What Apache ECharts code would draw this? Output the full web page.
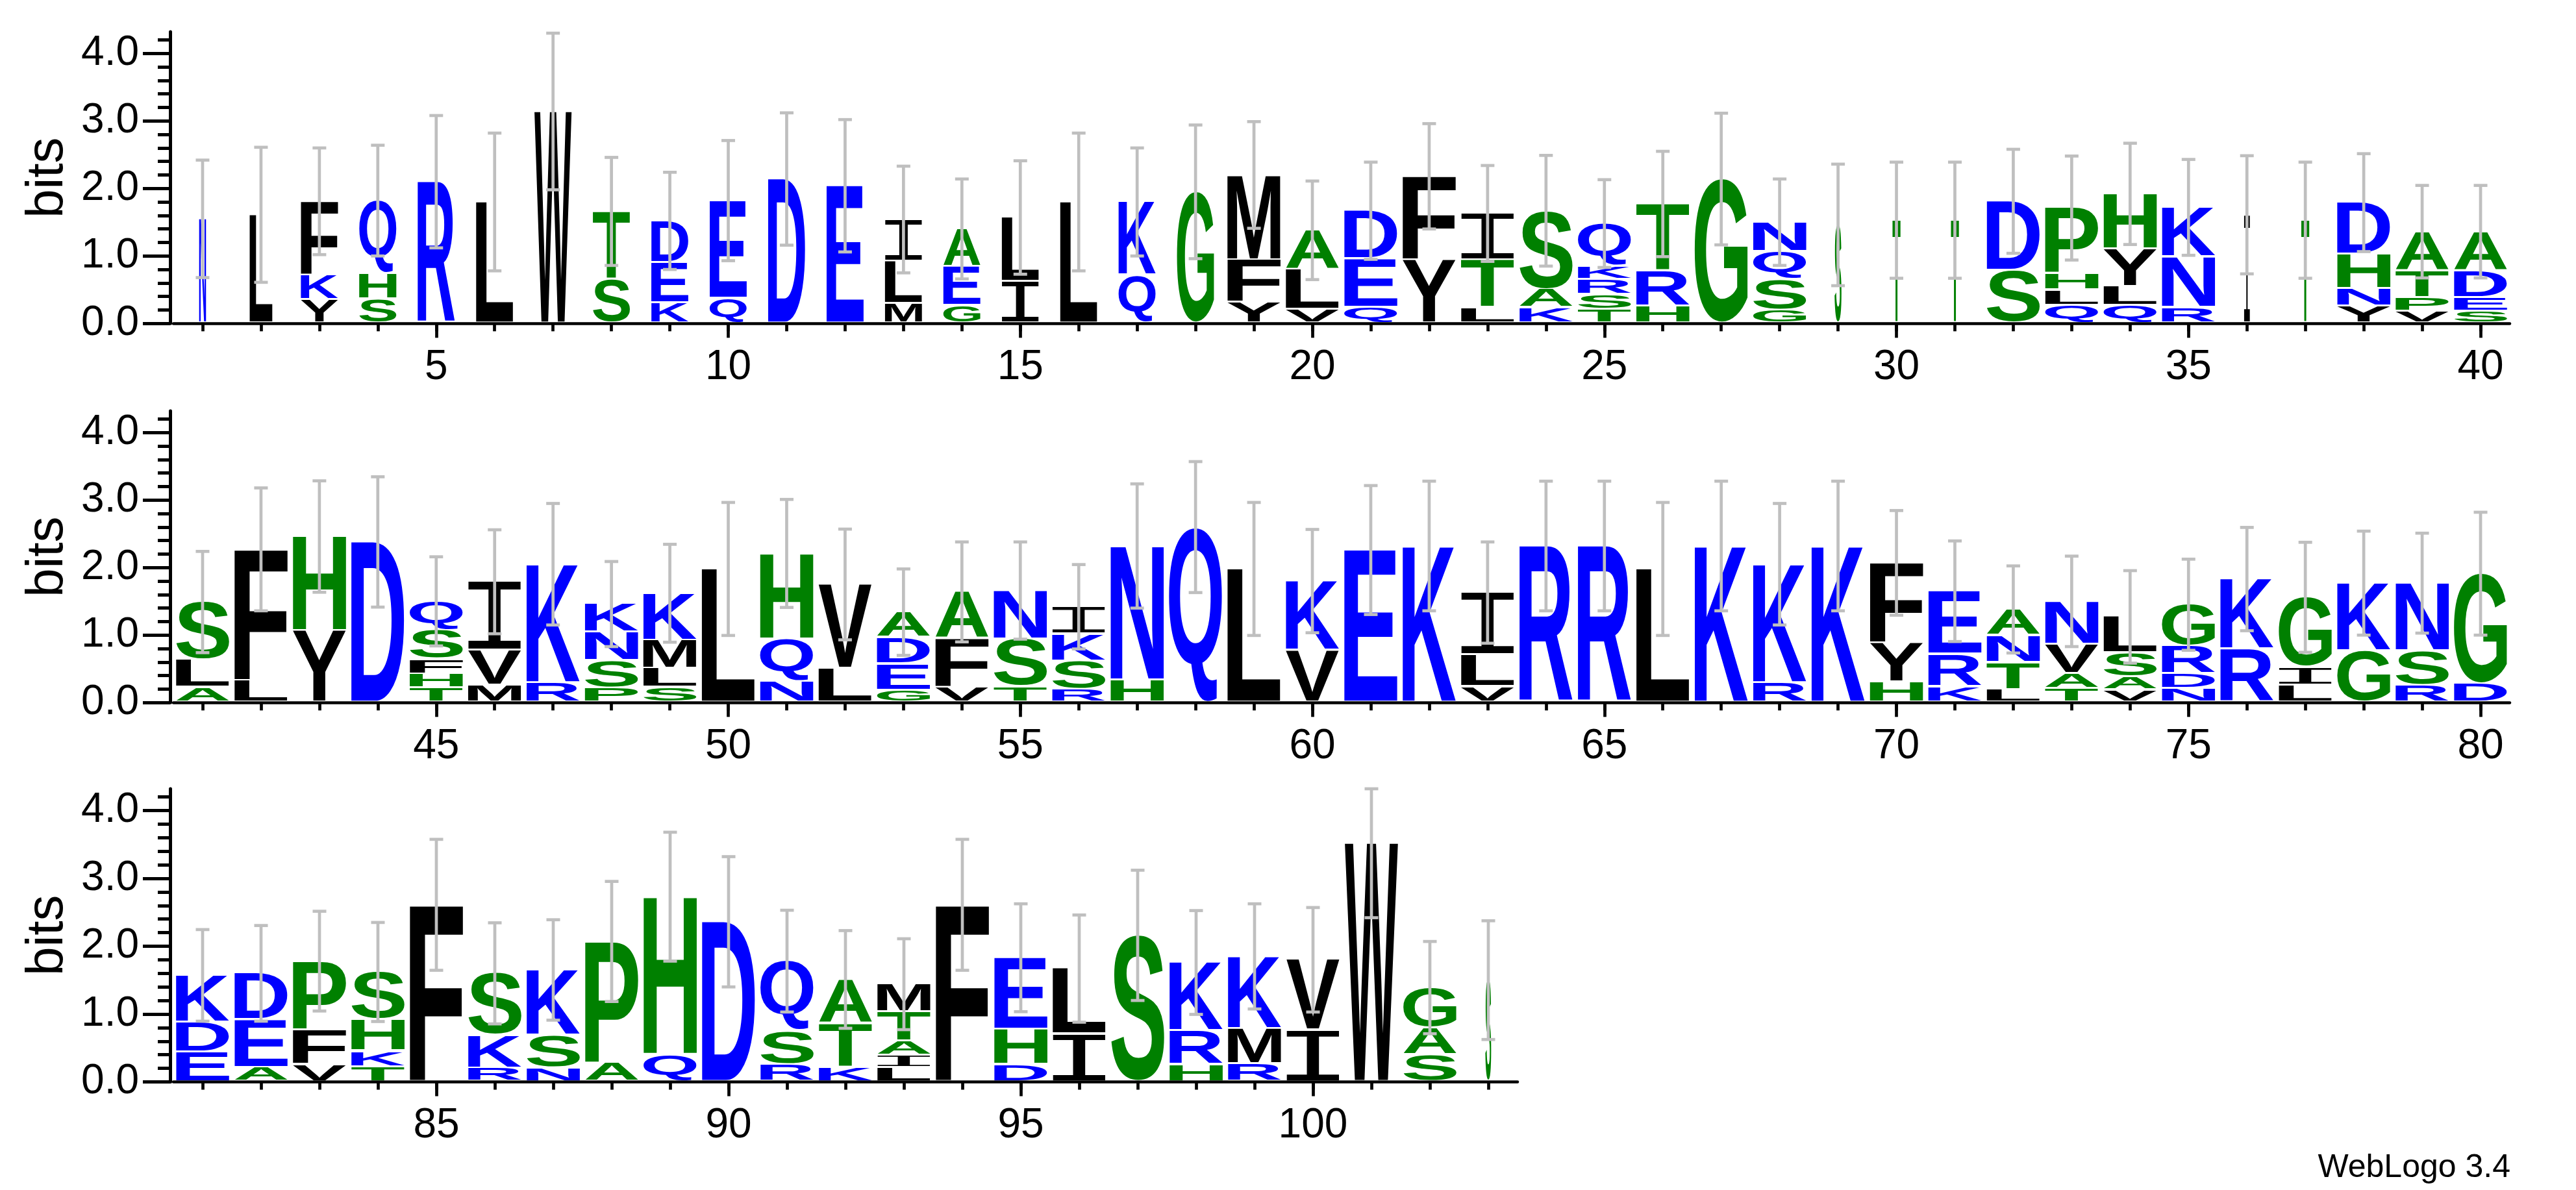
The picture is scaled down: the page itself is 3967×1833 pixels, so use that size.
<!DOCTYPE html>
<html><head><meta charset="utf-8">
<script src="https://cdn.jsdelivr.net/npm/echarts@6/dist/echarts.min.js"></script>
<style>html,body{margin:0;padding:0;background:#fff}#c{width:3967px;height:1833px}</style>
</head><body><div id="c"></div>
<script>
// ---- DATA ----
// letters of each stack, bottom to top, for positions 1..103
const letters = ["N","L","YKF","SHQ","R","L","W","ST","KED","QE","D","E","MLI","GEA","IL","L","QK","G","YFM","VLA",
"QED","YF","LTI","KAS","TSRKQ","HRT","G","GSQN","S","T","T","SD","QLHP","QLYH","RNK","I","T","YNHD","VPTA","SEDA",
"ALS","LF","YH","D","THFSQ","MVI","RK","PSNK","SLMK","L","NQH","LV","GEDA","VFA","TSN","RSKI","HN","Q","L","VK",
"E","K","VLI","R","R","L","K","RK","K","HYF","KRE","LTNA","TAVN","VASL","NDRG","RK","LIG","GK","RSN","DG",
"EDK","AED","VFP","TKHS","F","RKS","NSK","AP","QH","D","RSQ","KTA","LIATM","F","DHE","IL","S","HRK","RMK","IV",
"W","SAG","S"];
// letter heights in bits, same order
const heights = [
[1.55],[1.61],[0.35,0.36,1.10],[0.36,0.37,1.09],[2.10],[1.80],[3.14],[0.65,1.01],[0.30,0.60,0.62],[0.37,1.45],
[2.14],[2.04],[0.29,0.63,0.62],[0.26,0.58,0.56],[0.62,0.95],[1.80],[0.71,1.09],[1.95],[0.31,0.63,1.26],[0.20,0.59,0.59],
[0.23,0.72,0.72],[0.94,1.24],[0.23,0.71,0.69],[0.23,0.27,1.17],[0.20,0.22,0.23,0.19,0.64],[0.25,0.52,1.00],[2.14],[0.19,0.46,0.41,0.44],[1.46],[1.53],
[1.53],[0.78,1.03],[0.26,0.23,0.24,0.98],[0.26,0.28,0.56,0.82],[0.23,0.75,0.74],[1.61],[1.53],[0.25,0.26,0.51,0.77],[0.18,0.20,0.40,0.58],[0.18,0.20,0.40,0.58],
[0.22,0.41,0.86],[0.32,1.95],[1.06,1.40],[2.38],[0.21,0.21,0.22,0.43,0.43],[0.25,0.52,1.02],[0.29,1.76],[0.21,0.41,0.42,0.42],[0.22,0.28,0.42,0.70],[1.98],
[0.31,0.63,1.27],[0.50,1.25],[0.18,0.39,0.39,0.38],[0.22,0.72,0.70],[0.23,0.71,0.72],[0.19,0.42,0.40,0.41],[0.33,1.99],[2.60],[1.98],[0.77,1.03],
[2.26],[2.32],[0.23,0.47,0.93],[2.32],[2.32],[1.98],[2.32],[0.29,1.76],[2.32],[0.30,0.58,1.19],
[0.23,0.48,0.94],[0.19,0.40,0.40,0.39],[0.20,0.23,0.43,0.64],[0.18,0.19,0.36,0.54],[0.20,0.22,0.41,0.62],[0.79,1.04],[0.25,0.27,1.04],[0.76,1.01],[0.25,0.51,1.01],[0.27,1.64],
[0.44,0.44,0.69],[0.21,0.70,0.69],[0.25,0.51,1.02],[0.22,0.23,0.46,0.71],[2.61],[0.20,0.48,0.92],[0.20,0.48,0.97],[0.27,1.80],[0.40,2.33],[2.36],
[0.25,0.50,1.03],[0.21,0.65,0.65],[0.21,0.18,0.21,0.43,0.41],[2.61],[0.25,0.52,1.06],[0.70,0.97],[2.16],[0.25,0.50,1.01],[0.26,0.52,1.07],[0.76,1.04],
[3.52],[0.39,0.40,0.60],[1.50]];
// error bar half-length (bits)
const errorBars = [
0.87,1.00,0.79,0.82,0.98,1.02,1.16,0.80,0.72,0.89,0.98,0.98,0.79,0.74,0.84,1.02,0.80,0.99,0.79,0.73,
0.72,0.78,0.71,0.82,0.65,0.78,0.975,0.64,0.90,0.86,0.86,0.77,0.77,0.75,0.71,0.875,0.86,0.725,0.685,0.685,
0.75,0.91,0.825,0.965,0.66,0.77,0.90,0.63,0.725,0.985,0.80,0.82,0.64,0.74,0.72,0.625,0.92,0.97,0.985,0.765,
0.955,0.96,0.75,0.96,0.96,0.985,0.96,0.90,0.96,0.775,0.745,0.645,0.67,0.685,0.675,0.765,0.815,0.77,0.74,0.91,
0.675,0.705,0.735,0.73,0.965,0.745,0.74,0.885,0.95,0.96,0.75,0.72,0.67,0.965,0.795,0.79,0.96,0.765,0.775,0.77,
1.10,0.68,0.875];
// relative stack width (fraction of occupied sequences)
const stackWidths = [
0.13,0.43,0.70,0.70,0.70,0.70,0.70,0.70,0.70,0.70,0.70,0.70,0.70,0.70,0.70,0.70,0.70,0.70,1,1,
1,1,1,1,1,1,1,1,0.13,0.15,0.15,1,1,1,1,0.11,0.15,1,1,1,
1,1,1,1,1,1,1,1,1,1,1,1,1,1,1,1,1,1,1,1,
1,1,1,1,1,1,1,1,1,1,1,1,1,1,1,1,1,1,1,1,
1,1,1,1,1,1,1,1,1,1,1,1,1,1,1,1,1,1,1,1,
1,1,0.11];
const rowRanges = [[1,40],[41,80],[81,103]];
const xMajorTicks = [[5,10,15,20,25,30,35,40],[45,50,55,60,65,70,75,80],[85,90,95,100]];
const yMajorTicks = [0,1,2,3,4];
const yMinorTicks = [0,0.2,0.4,0.6,0.8,1,1.2,1.4,1.6,1.8,2,2.2,2.4,2.6,2.8,3,3.2,3.4,3.6,3.8,4,4.2];
const YMAX = 4.32;
const positions = letters.map((_, i) => i + 1);

// ---- styling ----
const BLUE = '#0000ff', GREEN = '#008000', BLACK = '#000000';
function colorOf(ch) {
  if ('RKDENQ'.indexOf(ch) >= 0) return BLUE;
  if ('SGHTAP'.indexOf(ch) >= 0) return GREEN;
  return BLACK;
}
const mctx = document.createElement('canvas').getContext('2d');
const metricCache = {};
function glyphMetrics(ch) {
  if (metricCache[ch]) return metricCache[ch];
  const font = ch === 'I' ? '200px "Liberation Mono"' : 'bold 200px "Liberation Sans"';
  mctx.font = font; mctx.textBaseline = 'middle'; mctx.textAlign = 'left';
  const m = mctx.measureText(ch);
  const r = {font: font, l: m.actualBoundingBoxLeft, r: m.actualBoundingBoxRight,
             a: m.actualBoundingBoxAscent, d: m.actualBoundingBoxDescent};
  metricCache[ch] = r;
  return r;
}
const GAP = 3, ERR_W = 4.7, CAP_HALF = 10.5, ERR_COLOR = '#bfbfbf';

function renderItem(params, api) {
  const pos = api.value(0);
  const i = pos - 1;
  const band = api.size([1, 0])[0];
  const w = band * 0.91 * stackWidths[i];
  const cx = api.coord([pos, 0])[0];
  const x0 = cx - w / 2;
  const children = [];
  let cum = 0;
  const ls = letters[i], hs = heights[i];
  for (let k = 0; k < ls.length; k++) {
    const ch = ls[k], h = hs[k];
    const yb = api.coord([pos, cum])[1] - GAP;
    const yt = api.coord([pos, cum + h])[1];
    cum += h;
    const m = glyphMetrics(ch);
    const sx = w / (m.l + m.r);
    const sy = Math.max(0.5, yb - yt) / (m.a + m.d);
    children.push({
      type: 'text', silent: true,
      x: x0 + m.l * sx, y: yt + m.a * sy, scaleX: sx, scaleY: sy,
      style: {text: ch, font: m.font, fill: colorOf(ch), align: 'left', verticalAlign: 'middle'}
    });
  }
  const e = errorBars[i];
  const lo = api.coord([pos, Math.max(0, cum - e)])[1];
  const hi = api.coord([pos, Math.min(YMAX, cum + e)])[1];
  const ls2 = {stroke: ERR_COLOR, lineWidth: ERR_W};
  children.push({type: 'line', silent: true, shape: {x1: cx, y1: lo, x2: cx, y2: hi}, style: ls2});
  children.push({type: 'line', silent: true, shape: {x1: cx - CAP_HALF, y1: lo, x2: cx + CAP_HALF, y2: lo}, style: ls2});
  children.push({type: 'line', silent: true, shape: {x1: cx - CAP_HALF, y1: hi, x2: cx + CAP_HALF, y2: hi}, style: ls2});
  return {type: 'group', children: children};
}

const grids = [
  {left: 267, top: 49, width: 3598, height: 449.3},
  {left: 267, top: 633, width: 3598, height: 449.3},
  {left: 267, top: 1215, width: 2070, height: 451.5}
];
const FONT = 'Liberation Sans';
const xAxis = [], yAxis = [], series = [];
rowRanges.forEach((rr, r) => {
  const rowPos = positions.filter(p => p >= rr[0] && p <= rr[1]);
  const common = {type: 'value', gridIndex: r, min: rr[0] - 0.5, max: rr[1] + 0.5, position: 'bottom',
                  splitLine: {show: false}};
  xAxis.push(Object.assign({}, common, {
    axisLine: {show: true, onZero: false, lineStyle: {color: '#000', width: 4.5}},
    axisTick: {show: true, length: 12, customValues: rowPos, lineStyle: {color: '#000', width: 4.7}},
    axisLabel: {show: false}
  }));
  xAxis.push(Object.assign({}, common, {
    axisLine: {show: false, onZero: false},
    axisTick: {show: true, length: 22, customValues: xMajorTicks[r], lineStyle: {color: '#000', width: 4.7}},
    axisLabel: {show: true, customValues: xMajorTicks[r], margin: 36, fontSize: 64, fontFamily: FONT, color: '#000'}
  }));
  const ycommon = {type: 'value', gridIndex: r, min: 0, max: YMAX, position: 'left', offset: 5, splitLine: {show: false}};
  yAxis.push(Object.assign({}, ycommon, {
    axisLine: {show: true, onZero: false, lineStyle: {color: '#000', width: 5}},
    axisTick: {show: true, length: 42, customValues: yMajorTicks, lineStyle: {color: '#000', width: 5}},
    axisLabel: {show: true, customValues: yMajorTicks, formatter: v => Number(v).toFixed(1), margin: 48,
                fontSize: 64, fontFamily: FONT, color: '#000'},
    name: 'bits', nameLocation: 'middle', nameRotate: 90, nameGap: 145,
    nameTextStyle: {fontSize: 80, fontFamily: FONT, color: '#000'}
  }));
  yAxis.push(Object.assign({}, ycommon, {
    axisLine: {show: false, onZero: false},
    axisTick: {show: true, length: 19, customValues: yMinorTicks, lineStyle: {color: '#000', width: 5}},
    axisLabel: {show: false}
  }));
  series.push({
    type: 'custom', xAxisIndex: r * 2, yAxisIndex: r * 2, clip: false, silent: true,
    renderItem: renderItem, data: rowPos.map(p => [p, 0])
  });
});

const chart = echarts.init(document.getElementById('c'), null, {renderer: 'canvas'});
chart.setOption({
  animation: false,
  backgroundColor: '#ffffff',
  grid: grids.map(g => Object.assign({outerBoundsMode: 'none'}, g)),
  xAxis: xAxis, yAxis: yAxis, series: series,
  graphic: [{type: 'text', x: 3866, y: 1799, silent: true,
             style: {text: 'WebLogo 3.4', font: '50px "Liberation Sans"', fill: '#000', align: 'right', verticalAlign: 'middle'}}]
});
</script></body></html>
